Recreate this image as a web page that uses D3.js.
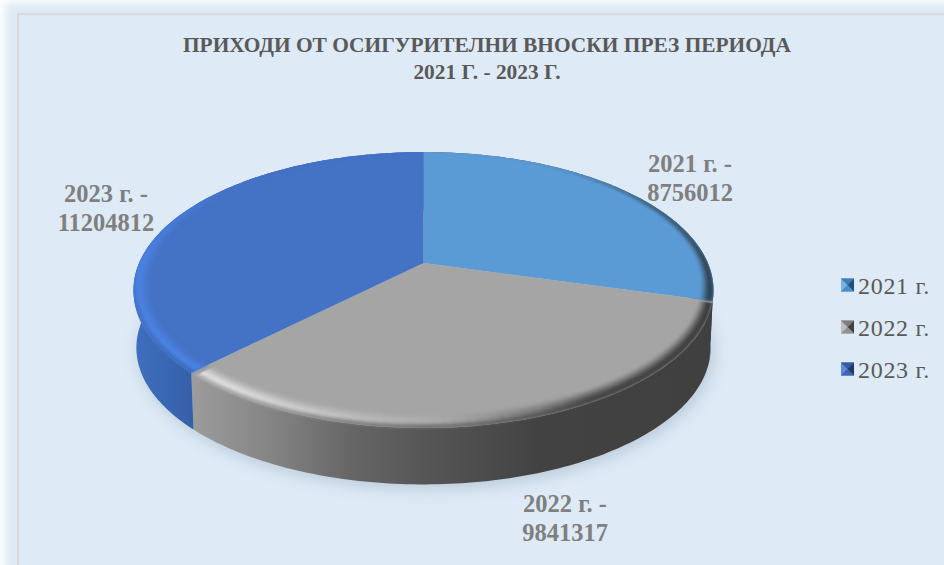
<!DOCTYPE html>
<html><head><meta charset="utf-8">
<script src="https://cdn.jsdelivr.net/npm/d3@7"></script>
<style>html,body{margin:0;padding:0;background:#fff;overflow:hidden}svg{display:block}
text{font-family:"Liberation Serif",serif}</style></head>
<body><svg id="c" width="944" height="565"></svg>
<script>
const categories = ["2021 г.", "2022 г.", "2023 г."];
const values = [8756012, 9841317, 11204812];
const titleLines = ["ПРИХОДИ ОТ ОСИГУРИТЕЛНИ ВНОСКИ ПРЕЗ ПЕРИОДА", "2021 Г. - 2023 Г."];
const topColors = ["#5b9bd5", "#a5a5a5", "#4472c4"];
const highColors = ["#7ab3e6", "#e6e6e6", "#4c86ea"];

const W = 944, H = 565;
const svg = d3.select("#c");
const defs = svg.append("defs");
const blur = (id, s) => defs.append("filter").attr("id", id)
  .attr("x", "-20%").attr("y", "-20%").attr("width", "140%").attr("height", "140%")
  .append("feGaussianBlur").attr("stdDeviation", s);
blur("glow", 4); blur("shadow", 8); blur("soft", 1.5);

// background
svg.append("rect").attr("width", W).attr("height", H).attr("fill", "#fff");
svg.append("rect").attr("x", 5).attr("y", 3).attr("width", W + 40).attr("height", H + 40)
  .attr("fill", "#deeaf5").attr("filter", "url(#glow)");
svg.append("rect").attr("x", 18).attr("y", 14).attr("width", W + 40).attr("height", H + 40)
  .attr("fill", "#deeaf6").attr("stroke", "#d9d9d9").attr("stroke-width", 2);

// projective mapping of the unit disc to the tilted pie
const cx = 423.5, cy = 263, K = 0.196, A = 132.7, B = 284.4, DEPTH = 58, SHRINK = 0.99;
function proj(theta, r, lower) {
  const u = r * Math.sin(theta), v = r * Math.cos(theta), d = 1 + K * v;
  const s = lower ? SHRINK : 1;
  return [cx + s * B * u / d, cy - s * A * v / d + (lower ? DEPTH : 0)];
}
const pie = d3.pie().sort(null).value(d => d);
const arcs = pie(values).map((a, i) => ({...a, i}));
const line = d3.line();
const angles = (a, b, step = Math.PI / 180) => {
  const n = Math.max(2, Math.ceil((b - a) / step));
  return d3.range(n + 1).map(k => a + (b - a) * k / n);
};

// ground shadow
const shadowPts = angles(0, 2 * Math.PI).map(t => { const p = proj(t, 1.0, true); return [p[0] + 3, p[1] + 4]; });
svg.append("path").attr("d", line(shadowPts) + "Z").attr("fill", "#9fb3c4").attr("opacity", .6).attr("filter", "url(#shadow)");

// side colours, by x position
const sideScales = [
  d3.scaleLinear().domain([600, 720]).range(["#3f3f3f", "#2a5378"]),
  d3.scaleLinear().domain([192, 270, 350, 430, 540, 714]).range(["#9c9c9c", "#858585", "#666666", "#555555", "#424242", "#404040"]),
  d3.scaleLinear().domain([133, 192]).range(["#3f6fc0", "#3560a8"])
];
sideScales.forEach((s, i) => {
  const g = defs.append("linearGradient").attr("id", "side" + i).attr("gradientUnits", "userSpaceOnUse")
    .attr("x1", s.domain()[0]).attr("x2", s.domain()[s.domain().length - 1]).attr("y1", 0).attr("y2", 0);
  const d = s.domain(), lo = d[0], hi = d[d.length - 1];
  d.forEach(x => g.append("stop").attr("offset", (x - lo) / (hi - lo)).attr("stop-color", s(x)));
});
// sides
const sideG = svg.append("g");
arcs.forEach(a => {
  const ts = angles(a.startAngle, a.endAngle);
  const pts = ts.map(t => proj(t, 1, false)).concat(ts.slice().reverse().map(t => proj(t, 1, true)));
  sideG.append("path").attr("d", line(pts) + "Z").attr("fill", `url(#side${a.i})`);
});
// top faces
const topG = svg.append("g");
arcs.forEach(a => {
  const ts = angles(a.startAngle, a.endAngle);
  const pts = [[cx, cy]].concat(ts.map(t => proj(t, 1, false)));
  topG.append("path").attr("d", line(pts) + "Z").attr("fill", topColors[a.i]);
  // clip for the bevel: the face, let down a little over the front wall
  const clipPts = [[cx, cy]].concat(ts.map(t => {
    const p = proj(t, 1, false);
    return [p[0], p[1] + 7 * Math.max(0, -Math.cos(t))];
  }));
  defs.append("clipPath").attr("id", "face" + a.i).append("path").attr("d", line(clipPts) + "Z");
});
// bevel ring
const deg = d3.scaleLinear().domain([0, 2 * Math.PI]).range([0, 360]);
const shade = d3.scaleLinear().domain([0, 30, 60, 110, 150, 180, 215, 270, 320, 360])
  .range([0, -.05, -.6, -.85, -.75, .15, 1, .8, 0, 0]);
const bevelWidth = d3.scaleLinear().domain([0, 90, 180, 270, 360]).range([.012, .035, .075, .05, .012]);
const bevelG = svg.append("g");
const RINGS = 7;
arcs.forEach(a => {
  const base = topColors[a.i];
  const g = bevelG.append("g").attr("clip-path", `url(#face${a.i})`)
    .append("g").attr("filter", "url(#soft)");
  const ts = angles(a.startAngle, a.endAngle, 2 * Math.PI / 180);
  for (let k = 0; k < ts.length - 1; k++) {
    const t0 = ts[k], t1 = ts[k + 1], tm = (t0 + t1) / 2;
    const s = shade(deg(tm)), w = bevelWidth(deg(tm));
    const hi = s > 0 ? d3.interpolateRgb(base, highColors[a.i])(s) : d3.interpolateRgb(base, "#262626")(-s);
    const x = proj(tm, 1, false)[0];
    const front = Math.max(0, Math.min(1, -Math.cos(tm) * 3));
    const edge = d3.interpolateRgb(hi, sideScales[a.i](x))(front);
    const prof = d3.scaleLinear().domain([0, .65, 1]).range([base, hi, edge]);
    for (let j = 0; j < RINGS; j++) {
      const r0 = 1 - w + w * j / RINGS, r1 = 1 - w + w * (j + 1) / RINGS;
      const c = prof((j + .5) / RINGS);
      g.append("path").attr("d", line([proj(t0, r0), proj(t1, r0), proj(t1, r1), proj(t0, r1)]) + "Z")
        .attr("fill", c).attr("stroke", c).attr("stroke-width", .6);
    }
  }
});

// title
svg.append("g").selectAll("text").data(titleLines).join("text")
  .attr("x", 487).attr("y", (d, i) => 52 + i * 27).attr("text-anchor", "middle")
  .attr("font-size", 21.4).attr("font-weight", 700).attr("fill", "#595959").text(d => d);

// data labels
const labelPos = [[690, 172], [565, 512], [106, 202]];
arcs.forEach(a => {
  const t = svg.append("text").attr("text-anchor", "middle").attr("font-size", 24.5)
    .attr("font-weight", 700).attr("fill", "#7f7f7f");
  const [lx, ly] = labelPos[a.i];
  t.append("tspan").attr("x", lx).attr("y", ly).text(categories[a.i] + " -");
  t.append("tspan").attr("x", lx).attr("y", ly + 29).text(values[a.i]);
});

// legend
const legendDark = ["#1f4e79", "#404040", "#203864"], legendLight = ["#7ab3e6", "#bdbdbd", "#5f8ad8"];
const lg = svg.append("g").selectAll("g").data(categories).join("g")
  .attr("transform", (d, i) => `translate(841,${278.5 + i * 42})`);
const S = 13, M = S / 2;
lg.append("rect").attr("width", S).attr("height", S).attr("fill", (d, i) => topColors[i]);
lg.append("path").attr("d", `M0,0L${M},${M}L0,${S}Z`).attr("fill", (d, i) => legendLight[i]);
lg.append("path").attr("d", `M${S},0L${M},${M}L${S},${S}Z`).attr("fill", (d, i) => legendDark[i]);
lg.append("path").attr("d", `M0,0L${M},${M}L${S},0Z`).attr("fill", (d, i) => d3.interpolateRgb(topColors[i], legendDark[i])(.4));
lg.append("path").attr("d", `M0,${S}L${M},${M}L${S},${S}Z`).attr("fill", (d, i) => d3.interpolateRgb(topColors[i], legendDark[i])(.2));
lg.append("text").attr("x", 17).attr("y", 15).attr("font-size", 24).attr("letter-spacing", .7).attr("fill", "#595959").text(d => d);
</script></body></html>
